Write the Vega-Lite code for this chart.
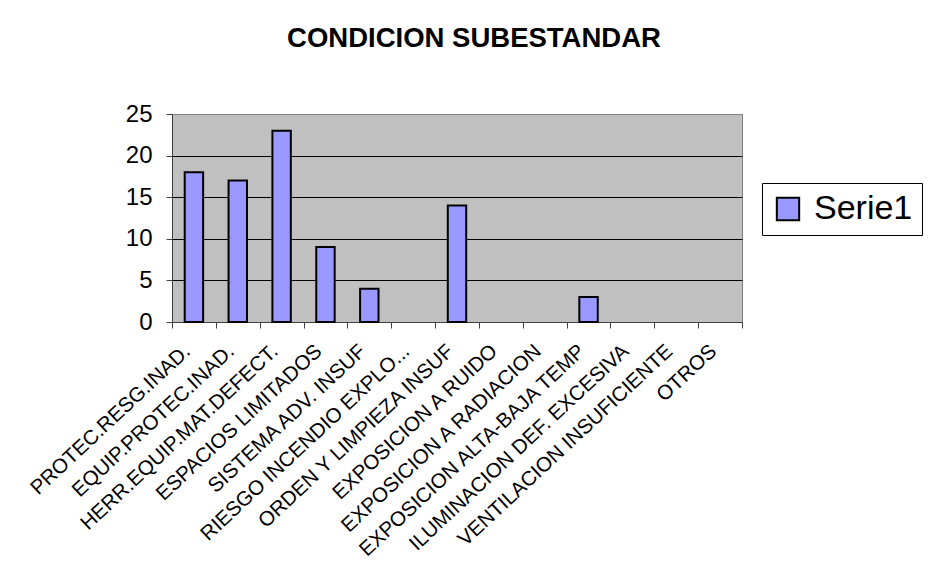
{
  "$schema": "https://vega.github.io/schema/vega-lite/v6.json",
  "width": 570,
  "height": 208,
  "autosize": "none",
  "padding": {"left": 172, "top": 114, "right": 189, "bottom": 249},
  "background": "white",
  "title": {
    "text": "CONDICION SUBESTANDAR",
    "font": "Liberation Sans",
    "fontSize": 27.5,
    "fontWeight": "bold",
    "color": "black",
    "anchor": "middle",
    "frame": "group",
    "dx": 17,
    "offset": 50
  },
  "data": {
    "values": [
      {"condicion": "PROTEC.RESG.INAD.", "valor": 18},
      {"condicion": "EQUIP.PROTEC.INAD.", "valor": 17},
      {"condicion": "HERR.EQUIP.MAT.DEFECT.", "valor": 23},
      {"condicion": "ESPACIOS LIMITADOS", "valor": 9},
      {"condicion": "SISTEMA ADV. INSUF", "valor": 4},
      {"condicion": "RIESGO INCENDIO EXPLO...", "valor": 0},
      {"condicion": "ORDEN Y LIMPIEZA INSUF", "valor": 14},
      {"condicion": "EXPOSICION A RUIDO", "valor": 0},
      {"condicion": "EXPOSICION A RADIACION", "valor": 0},
      {"condicion": "EXPOSICION ALTA-BAJA TEMP", "valor": 3},
      {"condicion": "ILUMINACION DEF. EXCESIVA", "valor": 0},
      {"condicion": "VENTILACION INSUFICIENTE", "valor": 0},
      {"condicion": "OTROS", "valor": 0}
    ]
  },
  "mark": {"type": "bar", "stroke": "black", "strokeWidth": 2, "width": {"band": 0.42}},
  "encoding": {
    "x": {
      "field": "condicion",
      "type": "nominal",
      "sort": null,
      "scale": {"paddingInner": 0, "paddingOuter": 0},
      "axis": {
        "title": null,
        "labelAngle": -43,
        "labelAlign": "right",
        "labelBaseline": "middle",
        "labelFont": "Liberation Sans",
        "labelFontSize": 20.5,
        "labelColor": "black",
        "labelLimit": 0,
        "labelOverlap": false,
        "labelPadding": 20,
        "labelOffset": -7,
        "tickBand": "extent",
        "tickSize": 6,
        "tickColor": "#404040",
        "domainColor": "#404040",
        "grid": false
      }
    },
    "y": {
      "field": "valor",
      "type": "quantitative",
      "scale": {"domain": [0, 25]},
      "axis": {
        "title": null,
        "values": [0, 5, 10, 15, 20, 25],
        "labelFont": "Liberation Sans",
        "labelFontSize": 24,
        "labelColor": "black",
        "labelPadding": 14,
        "tickSize": 6,
        "tickColor": "#404040",
        "domainColor": "#404040",
        "grid": true,
        "gridColor": {"condition": {"test": "datum.value === 25 || datum.value === 0", "value": "#808080"}, "value": "black"},
        "gridOpacity": 1
      }
    },
    "fill": {
      "datum": "Serie1",
      "scale": {"range": ["#9999FF"]},
      "legend": {
        "title": null,
        "orient": "none",
        "legendX": 590,
        "legendY": 69,
        "strokeColor": "black",
        "fillColor": "white",
        "padding": 9,
        "labelFont": "Liberation Sans",
        "labelFontSize": 34,
        "labelColor": "black",
        "labelOffset": 9,
        "symbolType": "square",
        "symbolSize": 500,
        "symbolStrokeColor": "black",
        "symbolStrokeWidth": 2,
        "symbolOpacity": 1
      }
    },
    "strokeOpacity": {"condition": {"test": "datum.valor === 0", "value": 0}, "value": 1}
  },
  "config": {
    "view": {"fill": "#C0C0C0", "stroke": "#808080", "strokeWidth": 1}
  }
}
